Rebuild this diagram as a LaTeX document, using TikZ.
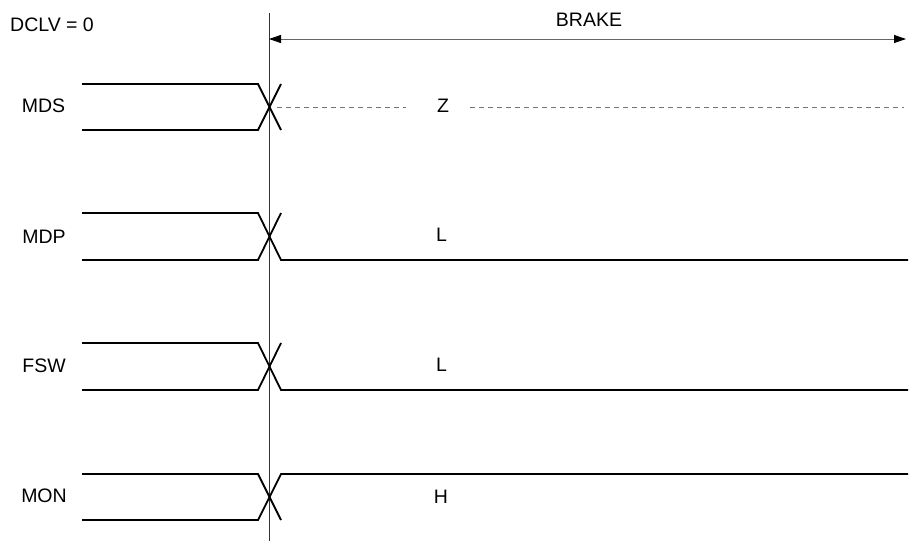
\documentclass[tikz,border=0pt]{standalone}
\usepackage{fontspec}
\setmainfont{Liberation Sans}
\usetikzlibrary{arrows.meta}
\tikzset{
  sig/.style={line width=1.8pt, line join=miter},
  marker/.style={line width=0.7pt, black!80},
  span/.style={line width=0.9pt, black!60, {Triangle[length=12pt,width=8pt,color=black]}-{Triangle[length=12pt,width=8pt,color=black]}},
  hiz/.style={line width=0.8pt, black!55, dash pattern=on 5pt off 4pt},
  lbl/.style={inner sep=0pt, font=\fontsize{19.5}{23}\selectfont},
}
\begin{document}
\begin{tikzpicture}[x=1pt,y=-1pt]
\useasboundingbox (0,0) rectangle (923,541);

% mode marker and BRAKE interval
\coordinate (t0top) at (269,13);
\coordinate (t0bot) at (269,541);
\draw[marker] (t0top) -- (t0bot);
\coordinate (bs) at (269,39);
\coordinate (be) at (906,39);
\draw[span] (bs) -- (be);
\node[lbl] (brake) at (589,20) {BRAKE};
\node[lbl, anchor=west] (dclv) at (10,24.5) {DCLV = 0};

% MDS -> high impedance
\node[lbl] (mds) at (43.5,105.5) {MDS};
\draw[sig] (82,84) -- (258,84) -- (281,130);
\draw[sig] (82,130) -- (258,130) -- (281,84);
\node[lbl] (z) at (443,106) {Z};
\draw[hiz] (277,107) -- (406,107);
\draw[hiz] (470,107) -- (904,107);

% MDP -> low
\node[lbl] (mdp) at (44,237) {MDP};
\draw[sig] (82,213) -- (258,213) -- (281,260) -- (908,260);
\draw[sig] (82,260) -- (258,260) -- (281,213);
\node[lbl] (l1) at (441.5,235) {L};

% FSW -> low
\node[lbl] (fsw) at (44,366) {FSW};
\draw[sig] (82,343) -- (258,343) -- (281,390) -- (908,390);
\draw[sig] (82,390) -- (258,390) -- (281,343);
\node[lbl] (l2) at (441.5,365) {L};

% MON -> high
\node[lbl] (mon) at (44,496) {MON};
\draw[sig] (82,474) -- (258,474) -- (281,520);
\draw[sig] (82,520) -- (258,520) -- (281,474) -- (908,474);
\node[lbl] (h) at (441,497) {H};
\end{tikzpicture}
\end{document}
